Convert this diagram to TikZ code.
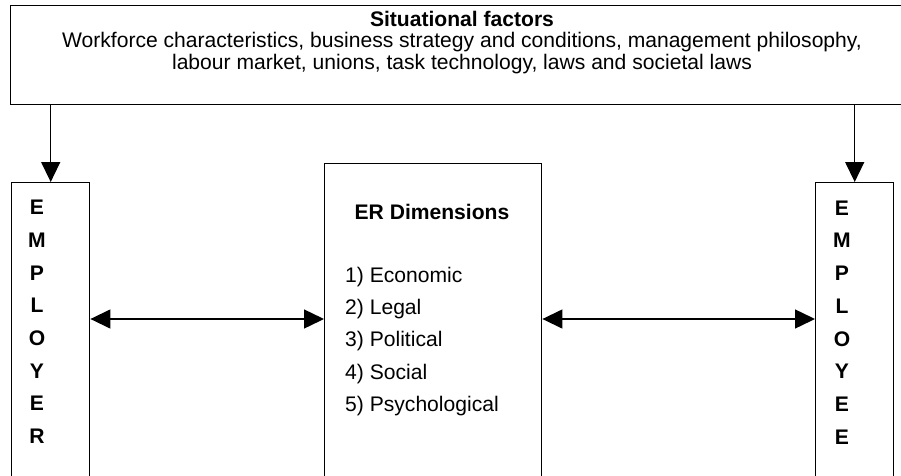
\documentclass[tikz,border=0pt]{standalone}
\usepackage{fontspec}
\setmainfont{Liberation Sans}
\usetikzlibrary{arrows.meta, positioning}

\tikzset{
  box/.style={draw, line width=0.8pt, anchor=north west, inner sep=0pt},
  flow/.style={line width=0.8pt, -{Triangle[length=0.4cm, width=0.38cm]}},
  both/.style={line width=0.8pt, {Triangle[length=0.4cm, width=0.38cm]}-{Triangle[length=0.4cm, width=0.38cm]}},
}

\begin{document}
\begin{tikzpicture}[anchor=west, font=\fontsize{12}{12}\selectfont]
    \path[use as bounding box, clip] (0,0) rectangle (18.02,-9.5);

    % situational factors
    \node[box, minimum width=17.9cm, minimum height=1.98cm] (factors) at (0.2,-0.1) {};
    \node[anchor=center, align=center] (factors_text) at (9.24,-0.85) {%
      \textbf{Situational factors}\\
      Workforce characteristics, business strategy and conditions, management philosophy,\\
      labour market, unions, task technology, laws and societal laws};

    % the three boxes
    \node[box, minimum width=1.56cm, minimum height=7cm] (employer) at (0.22,-3.64) {};
    \node[box, minimum width=4.34cm, minimum height=7cm] (dims) at (6.48,-3.25) {};
    \node[box, minimum width=1.56cm, minimum height=7cm] (employee) at (16.3,-3.64) {};

    \foreach \ch [count=\i] in {E,M,P,L,O,Y,E,R}
      \node[anchor=center] (employer_\i) at (0.74, {-4.15-0.654*(\i-1)}) {\textbf{\ch}};
    \foreach \ch [count=\i] in {E,M,P,L,O,Y,E,E}
      \node[anchor=center] (employee_\i) at (16.84, {-4.16-0.654*(\i-1)}) {\textbf{\ch}};

    \node[anchor=center] (dims_title) at (8.64,-4.24) {\textbf{ER Dimensions}};
    \foreach \item [count=\i] in {Economic,Legal,Political,Social,Psychological}
      \node (dims_\i) at (6.78, {-5.54-0.645*(\i-1)}) {\i) \item};

    % arrows
    \coordinate (link) at (0,-6.38);
    \draw[flow] (factors.south -| employer.north) -- (employer.north);
    \draw[flow] (factors.south -| employee.north) -- (employee.north);
    \draw[both] (employer.east |- link) -- (dims.west |- link);
    \draw[both] (dims.east |- link) -- (employee.west |- link);

\end{tikzpicture}
\end{document}
